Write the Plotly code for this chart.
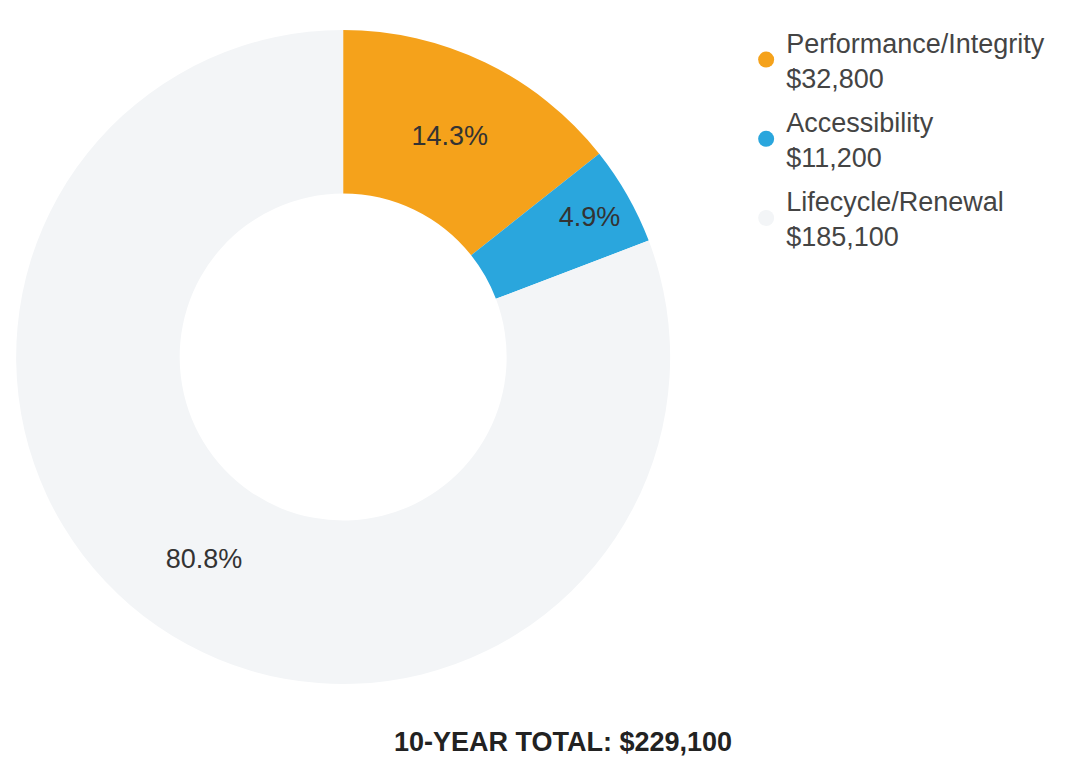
import plotly.graph_objects as go

# Ten-year cost breakdown by category
categories = ["Performance/Integrity", "Accessibility", "Lifecycle/Renewal"]
amounts = [32800, 11200, 185100]
colors = ["#F5A21B", "#2AA6DD", "#F3F5F7"]
total_label = "10-YEAR TOTAL: $229,100"

FONT = "Liberation Sans, Arial, sans-serif"

fig = go.Figure()

fig.add_trace(go.Pie(
    labels=categories,
    values=amounts,
    hole=0.5,
    sort=False,
    direction="clockwise",
    rotation=0,
    marker=dict(colors=colors, line=dict(color="rgba(0,0,0,0)", width=0)),
    textinfo="percent",
    texttemplate="%{percent:.1%}",
    textposition="inside",
    insidetextorientation="horizontal",
    textfont=dict(family=FONT, size=27, color="#333333"),
    showlegend=False,
    domain=dict(x=[0.015, 0.627], y=[0.1253, 0.9616]),
))

# Legend entries with round markers and amount on a second line
for name, amt, col in zip(categories, amounts, colors):
    fig.add_trace(go.Scatter(
        x=[None], y=[None], mode="markers",
        marker=dict(symbol="circle", size=18, color=col),
        name=f"{name}<br>${amt:,}",
        legendgroup=name,
        showlegend=True,
    ))

fig.update_layout(
    width=1069, height=782,
    margin=dict(l=0, r=0, t=0, b=0),
    paper_bgcolor="white",
    plot_bgcolor="white",
    xaxis=dict(visible=False),
    yaxis=dict(visible=False),
    legend=dict(
        x=0.698, y=0.977, xanchor="left", yanchor="top",
        font=dict(family=FONT, size=27, color="#444444"),
        itemsizing="trace",
        traceorder="grouped",
        tracegroupgap=6,
        bgcolor="rgba(0,0,0,0)",
    ),
    annotations=[dict(
        text=f"<b>{total_label}</b>",
        x=0.527, y=0.051, xref="paper", yref="paper",
        xanchor="center", yanchor="middle", showarrow=False,
        font=dict(family=FONT, size=27, color="#222222"),
    )],
)

fig.write_html("out.html")
